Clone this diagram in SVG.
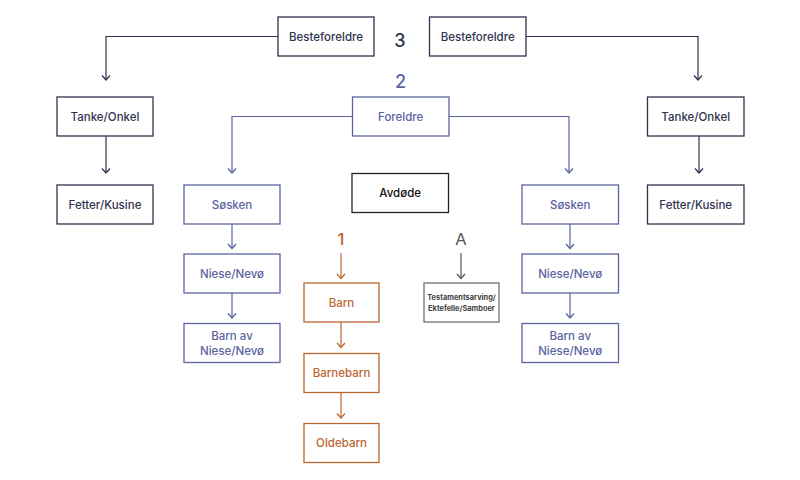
<svg xmlns="http://www.w3.org/2000/svg" width="800" height="480" viewBox="0 0 800 480">
<defs>
<marker id="mk" viewBox="-6 -6 12 12" markerWidth="12" markerHeight="12" markerUnits="userSpaceOnUse" orient="auto" refX="0" refY="0"><path d="M-4.5,-4 L0,0 L-4.5,4" fill="none" stroke="#2f3350" stroke-width="1.3"/></marker>
<marker id="mb" viewBox="-6 -6 12 12" markerWidth="12" markerHeight="12" markerUnits="userSpaceOnUse" orient="auto" refX="0" refY="0"><path d="M-4.5,-4 L0,0 L-4.5,4" fill="none" stroke="#5b63a0" stroke-width="1.3"/></marker>
<marker id="mo" viewBox="-6 -6 12 12" markerWidth="12" markerHeight="12" markerUnits="userSpaceOnUse" orient="auto" refX="0" refY="0"><path d="M-4.5,-4 L0,0 L-4.5,4" fill="none" stroke="#bb6530" stroke-width="1.3"/></marker>
<marker id="mg" viewBox="-6 -6 12 12" markerWidth="12" markerHeight="12" markerUnits="userSpaceOnUse" orient="auto" refX="0" refY="0"><path d="M-4.5,-4 L0,0 L-4.5,4" fill="none" stroke="#555555" stroke-width="1.3"/></marker>
</defs>
<style>
text{font-family:Inter,"Liberation Sans",sans-serif;text-anchor:middle}
.lbl{font-size:11.5px;font-weight:500}
rect{fill:#ffffff;stroke-width:1.3}
.k rect{stroke:#2f3350}.k text{fill:#2f3350}
.b rect{stroke:#5b63a0}.b text{fill:#5b63a0}
.o rect{stroke:#bb6530}.o text{fill:#bb6530}
.cn path{fill:none;stroke-width:1.2}
.ck{stroke:#2f3350}.cb{stroke:#5b63a0}.co{stroke:#bb6530}.cg{stroke:#555555}
.num{font-size:18px;font-weight:500}
</style>
<rect x="0" y="0" width="800" height="480" fill="#ffffff" stroke="none"/>

<g id="connectors" class="cn">
<path class="ck" d="M278,36.5 H106 V80" marker-end="url(#mk)"/>
<path class="ck" d="M526,36.5 H698 V80" marker-end="url(#mk)"/>
<path class="ck" d="M106,136 V173" marker-end="url(#mk)"/>
<path class="ck" d="M699,136 V173" marker-end="url(#mk)"/>
<path class="cb" d="M352,116.5 H232 V173" marker-end="url(#mb)"/>
<path class="cb" d="M449,116.5 H569 V173" marker-end="url(#mb)"/>
<path class="cb" d="M232,224 V248.5" marker-end="url(#mb)"/>
<path class="cb" d="M232,293 V318" marker-end="url(#mb)"/>
<path class="cb" d="M570,224 V248.5" marker-end="url(#mb)"/>
<path class="cb" d="M570,293 V318" marker-end="url(#mb)"/>
<path class="co" d="M341,253 V278.5" marker-end="url(#mo)"/>
<path class="co" d="M341,322 V347.5" marker-end="url(#mo)"/>
<path class="co" d="M341,393 V418" marker-end="url(#mo)"/>
<path class="cg" d="M461,253 V278.5" marker-end="url(#mg)"/>
</g>

<g id="label-3"><text class="num" x="400" y="47" fill="#2f3350">3</text></g>
<g id="label-2"><text class="num" x="400.5" y="88" fill="#5b63a0">2</text></g>
<g id="label-1"><text x="341" y="244.5" font-size="16.5" font-weight="500" fill="#bb6530">1</text></g>
<g id="label-A"><text x="461" y="244.5" font-size="16.5" fill="#555555">A</text></g>

<g id="besteforeldre-left" class="k"><rect x="278" y="17" width="96" height="39"/><text class="lbl" x="326" y="40.5">Besteforeldre</text></g>
<g id="besteforeldre-right" class="k"><rect x="429.5" y="17" width="96.5" height="39"/><text class="lbl" x="477.7" y="40.5">Besteforeldre</text></g>
<g id="tante-left" class="k"><rect x="57" y="97" width="96" height="39"/><text class="lbl" x="105" y="120.5">Tanke/Onkel</text></g>
<g id="tante-right" class="k"><rect x="647.5" y="97" width="96.5" height="39"/><text class="lbl" x="695.7" y="120.5">Tanke/Onkel</text></g>
<g id="fetter-left" class="k"><rect x="57" y="185" width="96" height="39"/><text class="lbl" x="105" y="208.5">Fetter/Kusine</text></g>
<g id="fetter-right" class="k"><rect x="647.5" y="185" width="96.5" height="39"/><text class="lbl" x="695.7" y="208.5">Fetter/Kusine</text></g>

<g id="foreldre" class="b"><rect x="352.5" y="97" width="96.5" height="39"/><text class="lbl" x="400.7" y="120.5">Foreldre</text></g>
<g id="avdode"><rect x="352" y="173.5" width="96.5" height="39" stroke="#222222" stroke-width="1.4"/><text class="lbl" x="400.2" y="197" fill="#111111">Avdøde</text></g>

<g id="sosken-left" class="b"><rect x="184" y="185" width="96" height="39"/><text class="lbl" x="232" y="208.5">Søsken</text></g>
<g id="sosken-right" class="b"><rect x="522" y="185" width="96.5" height="39"/><text class="lbl" x="570.2" y="208.5">Søsken</text></g>
<g id="niese-left" class="b"><rect x="184" y="254" width="96" height="39"/><text class="lbl" x="232" y="277.5">Niese/Nevø</text></g>
<g id="niese-right" class="b"><rect x="522" y="254" width="96.5" height="39"/><text class="lbl" x="570.2" y="277.5">Niese/Nevø</text></g>
<g id="barnav-left" class="b"><rect x="184" y="323.5" width="96" height="39"/><text class="lbl" x="232" y="340">Barn av</text><text class="lbl" x="232" y="355">Niese/Nevø</text></g>
<g id="barnav-right" class="b"><rect x="522" y="323.5" width="96.5" height="39"/><text class="lbl" x="570.2" y="340">Barn av</text><text class="lbl" x="570.2" y="355">Niese/Nevø</text></g>

<g id="barn" class="o"><rect x="304" y="283" width="75" height="39"/><text class="lbl" x="341.5" y="306.5">Barn</text></g>
<g id="barnebarn" class="o"><rect x="304" y="353.5" width="75" height="39"/><text class="lbl" x="341.5" y="377">Barnebarn</text></g>
<g id="oldebarn" class="o"><rect x="304" y="423.5" width="75" height="39"/><text class="lbl" x="341.5" y="447">Oldebarn</text></g>

<g id="testament"><rect x="424" y="283" width="75" height="39" stroke="#707070" stroke-width="1.4"/><text x="461.5" y="300" font-size="7.4" font-weight="700" fill="#444444">Testamentsarving/</text><text x="461.5" y="310.5" font-size="7.4" font-weight="700" fill="#444444">Ektefelle/Samboer</text></g>
</svg>
